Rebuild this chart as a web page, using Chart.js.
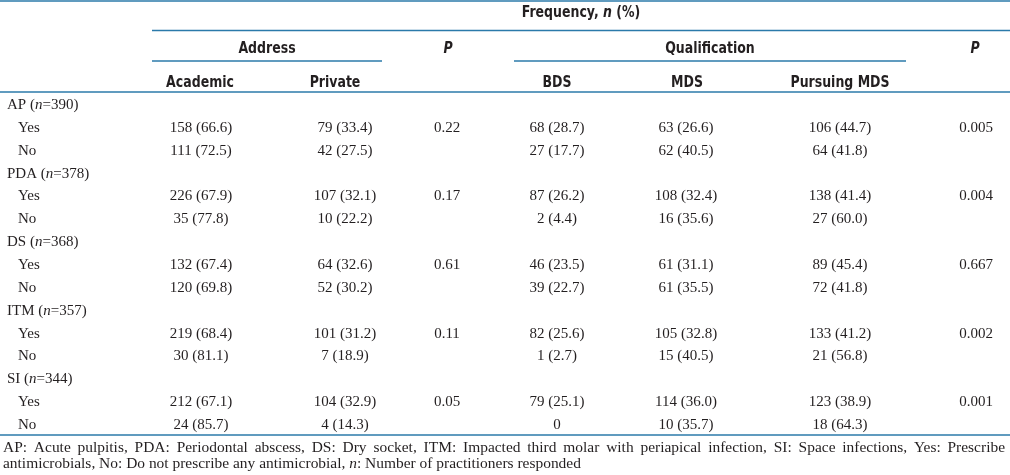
<!DOCTYPE html>
<html>
<head>
<meta charset="utf-8">
<script src="https://cdn.jsdelivr.net/npm/chart.js@4.4.0/dist/chart.umd.min.js"></script>
<style>
  html, body { margin: 0; padding: 0; background: #fff; }
  canvas { display: block; }
</style>
</head>
<body>
<canvas id="tbl" width="1010" height="475"></canvas>
<script>
// Table data (rows: Yes/No per condition)
const groups = ['AP (*n*=390)', 'PDA (*n*=378)', 'DS (*n*=368)', 'ITM (*n*=357)', 'SI (*n*=344)'];
const answers = ['Yes', 'No'];
const academicN   = [158, 111, 226, 35, 132, 120, 219, 30, 212, 24];
const academicPct = [66.6, 72.5, 67.9, 77.8, 67.4, 69.8, 68.4, 81.1, 67.1, 85.7];
const privateN    = [79, 42, 107, 10, 64, 52, 101, 7, 104, 4];
const privatePct  = [33.4, 27.5, 32.1, 22.2, 32.6, 30.2, 31.2, 18.9, 32.9, 14.3];
const pAddress    = ['0.22', '0.17', '0.61', '0.11', '0.05'];
const bdsN        = [68, 27, 87, 2, 46, 39, 82, 1, 79, 0];
const bdsPct      = [28.7, 17.7, 26.2, 4.4, 23.5, 22.7, 25.6, 2.7, 25.1, null];
const mdsN        = [63, 62, 108, 16, 61, 61, 105, 15, 114, 10];
const mdsPct      = [26.6, 40.5, 32.4, 35.6, 31.1, 35.5, 32.8, 40.5, 36.0, 35.7];
const pursN       = [106, 64, 138, 27, 89, 72, 133, 21, 123, 18];
const pursPct     = [44.7, 41.8, 41.4, 60.0, 45.4, 41.8, 41.2, 56.8, 38.9, 64.3];
const pQual       = ['0.005', '0.004', '0.667', '0.002', '0.001'];

const colHeaders = ['Academic', 'Private', 'BDS', 'MDS', 'Pursuing MDS'];
const footnote = [
  'AP: Acute pulpitis, PDA: Periodontal abscess, DS: Dry socket, ITM: Impacted third molar with periapical infection, SI: Space infections, Yes: Prescribe',
  'antimicrobials, No: Do not prescribe any antimicrobial, *n*: Number of practitioners responded'
];

// layout
const ROW0 = 109, STEP = 22.86;
const colX = { academic: 201, priv: 345, pA: 447, bds: 557, mds: 686, purs: 840, pQ: 976 };
const headX = [200, 335, 557, 687, 840];
const LINE = '#2b7aaa', INK = '#231f20';
const SERIF = '"Liberation Serif", "Times New Roman", serif';
const NARROW = '"Liberation Sans Narrow", "DejaVu Sans Condensed", "Arial Narrow", sans-serif';
const HEAD = { size: 16, family: NARROW, weight: 'bold', sx: 0.87 };
const BODY = { size: 15, family: SERIF, weight: 'normal', sx: 1.0 };
const FOOT = { size: 15, family: SERIF, weight: 'normal', sx: 1.03 };

function fmt(n, p) { return p == null ? String(n) : `${n} (${p.toFixed(1)})`; }
function rowOf(i) { return Math.floor(i / 2) * 3 + 1 + (i % 2); }

function cellSet(xKey, texts, rows, align) {
  return {
    data: rows.map(r => ({ x: typeof xKey === 'number' ? xKey : colX[xKey], y: ROW0 + r * STEP })),
    texts: texts, align: align || 'center', pointRadius: 0, showLine: false
  };
}

const dataRows = academicN.map((_, i) => rowOf(i));
const pRows = groups.map((_, g) => g * 3 + 1);
const datasets = [
  cellSet(7, groups, groups.map((_, g) => g * 3), 'left'),
  cellSet(18, dataRows.map((_, i) => answers[i % 2]), dataRows, 'left'),
  cellSet('academic', academicN.map((n, i) => fmt(n, academicPct[i])), dataRows),
  cellSet('priv', privateN.map((n, i) => fmt(n, privatePct[i])), dataRows),
  cellSet('pA', pAddress, pRows),
  cellSet('bds', bdsN.map((n, i) => fmt(n, bdsPct[i])), dataRows),
  cellSet('mds', mdsN.map((n, i) => fmt(n, mdsPct[i])), dataRows),
  cellSet('purs', pursN.map((n, i) => fmt(n, pursPct[i])), dataRows),
  cellSet('pQ', pQual, pRows)
];

function fontsFor(text, f) {
  return text.split('*').map((p, k) => ({ p, font: `${k % 2 ? 'italic ' : ''}${f.weight} ${f.size}px ${f.family}` }));
}
function richWidth(ctx, text, f) {
  let w = 0;
  fontsFor(text, f).forEach(s => { ctx.font = s.font; w += ctx.measureText(s.p).width * f.sx; });
  return w;
}
// draws text with *italic* segments, squeezed by f.sx
function drawRich(ctx, text, x, y, align, f) {
  const w = richWidth(ctx, text, f);
  let cx = align === 'center' ? x - w / 2 : align === 'right' ? x - w : x;
  fontsFor(text, f).forEach(s => {
    ctx.font = s.font;
    ctx.save(); ctx.translate(cx, y); ctx.scale(f.sx, 1); ctx.fillText(s.p, 0, 0); ctx.restore();
    cx += ctx.measureText(s.p).width * f.sx;
  });
}

const tablePlugin = {
  id: 'tablePlugin',
  afterDatasetsDraw(chart) {
    const ctx = chart.ctx, xs = chart.scales.x, ys = chart.scales.y;
    const hx = v => xs.getPixelForValue(v), hy = v => ys.getPixelForValue(v);
    ctx.save();
    ctx.textBaseline = 'alphabetic';
    ctx.fillStyle = INK;

    // rules
    ctx.strokeStyle = LINE; ctx.lineWidth = 1.5;
    const rule = (x0, x1, y) => {
      ctx.beginPath(); ctx.moveTo(hx(x0), hy(y)); ctx.lineTo(hx(x1), hy(y)); ctx.stroke();
    };
    rule(0, 1010, 1); rule(152, 1010, 30.5); rule(152, 382, 61); rule(514, 906, 61);
    rule(0, 1010, 92); rule(0, 1010, 435);

    // header
    drawRich(ctx, 'Frequency, *n* (%)', hx(581), hy(17), 'center', HEAD);
    drawRich(ctx, 'Address', hx(267), hy(53), 'center', HEAD);
    drawRich(ctx, 'Qualification', hx(710), hy(53), 'center', HEAD);
    drawRich(ctx, '*P*', hx(448), hy(53), 'center', HEAD);
    drawRich(ctx, '*P*', hx(975), hy(53), 'center', HEAD);
    colHeaders.forEach((h, k) => drawRich(ctx, h, hx(headX[k]), hy(87), 'center', HEAD));

    // cells
    chart.data.datasets.forEach((ds, d) => {
      chart.getDatasetMeta(d).data.forEach((pt, i) => drawRich(ctx, ds.texts[i], pt.x, pt.y, ds.align, BODY));
    });

    // footnote (first line justified)
    const fy = [452, 468];
    footnote.forEach((line, li) => {
      const words = line.split(' ');
      const sizes = words.map(w => richWidth(ctx, w, FOOT));
      const total = sizes.reduce((a, b) => a + b, 0);
      const gap = li === 0 ? (1005 - 3 - total) / (words.length - 1) : richWidth(ctx, ' ', FOOT);
      let cx = hx(3);
      words.forEach((w, k) => { drawRich(ctx, w, cx, hy(fy[li]), 'left', FOOT); cx += sizes[k] + gap; });
    });
    ctx.restore();
  }
};

new Chart(document.getElementById('tbl'), {
  type: 'scatter',
  data: { datasets },
  options: {
    responsive: false,
    animation: false,
    layout: { padding: 0 },
    plugins: { legend: { display: false }, tooltip: { enabled: false } },
    scales: {
      x: { type: 'linear', min: 0, max: 1010, display: false },
      y: { type: 'linear', min: 0, max: 475, reverse: true, display: false }
    }
  },
  plugins: [tablePlugin]
});
</script>
</body>
</html>
